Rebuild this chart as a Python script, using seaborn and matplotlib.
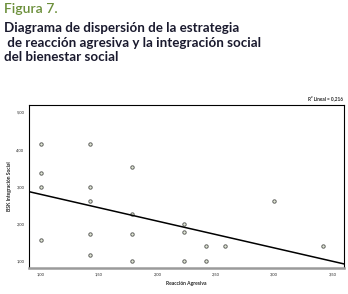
import numpy as np
import pandas as pd
import matplotlib
matplotlib.use('Agg')
import matplotlib.pyplot as plt
import seaborn as sns

# puntos
reaccion = [1.00, 1.00, 1.00, 1.00,
            1.42, 1.42, 1.42, 1.42, 1.42,
            1.78, 1.78, 1.78, 1.78,
            2.23, 2.23, 2.23,
            2.42, 2.42,
            2.58, 3.00, 3.42]
integracion = [4.15, 3.37, 3.00, 1.57,
               4.15, 3.00, 2.62, 1.73, 1.17,
               3.53, 2.27, 1.73, 1.00,
               2.01, 1.77, 1.00,
               1.41, 1.00,
               1.41, 2.62, 1.41]
xticks = [1.0, 1.5, 2.0, 2.5, 3.0, 3.5]
yticks = [1.0, 2.0, 3.0, 4.0, 5.0]
r2_text = 'R² Lineal = 0,216'

df = pd.DataFrame({'Reacción Agresiva': reaccion, 'BSK Integración Social': integracion})

sns.set_theme(style='white')
plt.rcParams['font.family'] = ['Lato', 'DejaVu Sans']

fig = plt.figure(figsize=(3.48, 2.94), dpi=100)
fig.text(0.012, 0.99, 'Figura 7.', color='#6b8f3a', fontsize=10, fontweight='semibold', va='top')
fig.text(0.012, 0.925, 'Diagrama de dispersión de la estrategia\n de reacción agresiva y la integración social\ndel bienestar social',
         color='#1a1a2e', fontsize=9.6, fontweight='bold', va='top', linespacing=1.25)

ax = fig.add_axes([0.083, 0.088, 0.906, 0.555])
ax.set_xlim(0.9, 3.6)
ax.set_ylim(0.81, 5.2)

sns.regplot(data=df, x='Reacción Agresiva', y='BSK Integración Social', ax=ax, ci=None, truncate=False,
            scatter_kws=dict(s=6, facecolor='#dde5cf', edgecolor='#3a3a3a', linewidths=0.7),
            line_kws=dict(color='black', lw=1.1))

ax.set_xticks(xticks)
ax.set_yticks(yticks)
ax.set_xticklabels([f'{v:.2f}'.replace('.', ',') for v in xticks], fontsize=3)
ax.set_yticklabels([f'{v:.2f}'.replace('.', ',') for v in yticks], fontsize=3)
ax.tick_params(axis='both', length=2.5, width=2, color='black', pad=2, direction='inout')
ax.set_xlabel('Reacción Agresiva', fontsize=3.6, fontweight='bold', labelpad=3)
ax.set_ylabel('BSK Integración Social', fontsize=3.6, fontweight='bold', labelpad=3)

for s in ax.spines.values():
    s.set_color('black')
    s.set_linewidth(0.8)
ax.spines['bottom'].set_color('#9a9a9a')
ax.spines['bottom'].set_linewidth(1.8)

fig.text(0.985, 0.655, r2_text, fontsize=3.4, fontweight='bold', ha='right', va='bottom')

fig.savefig('out.png', dpi=100)
